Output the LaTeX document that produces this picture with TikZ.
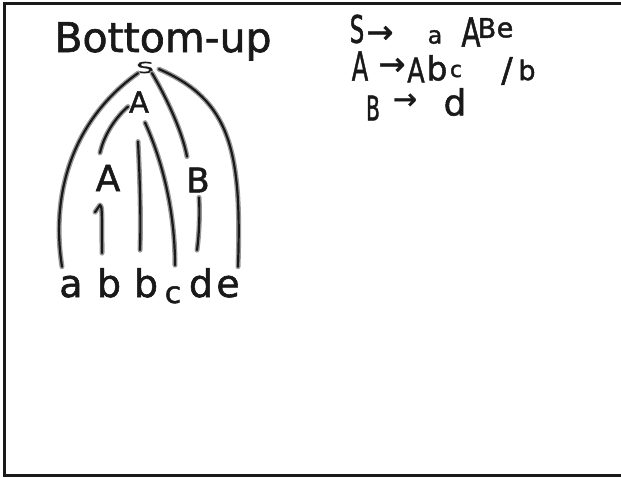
\documentclass[tikz,border=0pt]{standalone}
\usepackage{fontspec}
\setmainfont[FakeBold=1.5]{DejaVu Sans}
\usetikzlibrary{calc}
\newcommand\fsz[1]{\fontsize{#1}{#1}\selectfont}
\tikzset{
  stroke/.style={draw=black!90, line width=2.2pt, line cap=round, line join=round,
    preaction={draw=black!40, line width=5pt, line cap=round, line join=round}},
  hw/.style={inner sep=0pt, outer sep=0pt, text=black!90},
  frame/.style={draw=black!90, line width=3pt},
}
\begin{document}
\begin{tikzpicture}[x=1pt,y=-1pt]
\useasboundingbox (0,0) rectangle (621,477);
\draw[frame] (621,3) -- (4,3) -- (4,475) -- (621,475);
% title
\node[hw, anchor=base, font=\fsz{41}] (title) at (163,52) {Bottom-up};
% tree nodes
\node[hw, font=\fsz{15}] (S) at (145,67.5) {\scalebox{1.9}[1]{S}};
\node[hw, font=\fsz{29}] (Am) at (139,102) {A};
\node[hw, font=\fsz{36}] (Al) at (108,178) {A};
\node[hw, font=\fsz{34}] (B) at (198,180) {B};
\node[hw, anchor=base, font=\fsz{38}] (a1) at (71,297) {a};
\node[hw, anchor=base, font=\fsz{38}] (b1) at (109,297) {b};
\node[hw, anchor=base, font=\fsz{38}] (b2) at (146,297) {b};
\node[hw, anchor=base, font=\fsz{30}] (c1) at (173,303) {c};
\node[hw, anchor=base, font=\fsz{38}] (d1) at (201,297) {d};
\node[hw, anchor=base, font=\fsz{38}] (e1) at (228,297) {e};
% connectors
\draw[stroke] ($(S.south)+(-7,0)$) .. controls (75,118) and (50,190) .. ($(a1.north)+(-9,-9)$);
\draw[stroke] ($(S.south east)+(5,-4)$) .. controls (230,100) and (242,150) .. ($(e1.north)+(10,-9)$);
\draw[stroke] ($(S.south)+(7,0)$) .. controls (165,95) and (182,130) .. ($(B.north)+(-11,-11)$);
\draw[stroke] ($(Am.south)+(-11,-6)$) .. controls (115,118) and (104,135) .. ($(Al.north)+(-8,-12)$);
\draw[stroke] ($(Am.south)+(6,10)$) .. controls (162,160) and (175,210) .. ($(c1.north)+(2,-21)$);
\draw[stroke] ($(Am.south)+(-1,29)$) .. controls (140,180) and (141,220) .. ($(b2.north)+(-6,-18)$);
\draw[stroke] ($(Al.south)+(-13,21)$) -- (100,205) .. controls (102,207) .. ($(b1.north)+(-7,-15)$);
\draw[stroke] ($(B.south)+(1,5)$) .. controls (200,215) and (199,235) .. ($(d1.north)+(-4,-18)$);
% grammar
\node[hw, font=\fsz{38}] (g1S) at (357,29) {\scalebox{0.6}[1]{S}};
\node[hw, anchor=base, font=\fsz{32}] (g1r) at (380,43) {→};
\node[hw, font=\fsz{24}] (g1a) at (435,37) {a};
\node[hw, font=\fsz{40}] (g1A) at (471,32) {\scalebox{0.7}[1]{A}};
\node[hw, font=\fsz{27}] (g1B) at (487,28) {B};
\node[hw, font=\fsz{27}] (g1e) at (505,30) {e};
\node[hw, font=\fsz{40}] (g2A) at (360,66) {\scalebox{0.6}[1]{A}};
\node[hw, anchor=base, font=\fsz{32}] (g2r) at (392,75) {→};
\node[hw, font=\fsz{34}] (g2A2) at (416,70) {\scalebox{0.75}[1]{A}};
\node[hw, font=\fsz{33}] (g2b) at (437,68) {b};
\node[hw, font=\fsz{22}] (g2c) at (456,71) {c};
\node[hw, font=\fsz{34}] (g2bar) at (507,71) {/};
\node[hw, font=\fsz{27}] (g2b2) at (527,70) {b};
\node[hw, font=\fsz{34}] (g3B) at (373,108) {\scalebox{0.6}[1]{B}};
\node[hw, anchor=base, font=\fsz{29}] (g3r) at (405,109) {→};
\node[hw, font=\fsz{36}] (g3d) at (455,102) {d};
\end{tikzpicture}
\end{document}
